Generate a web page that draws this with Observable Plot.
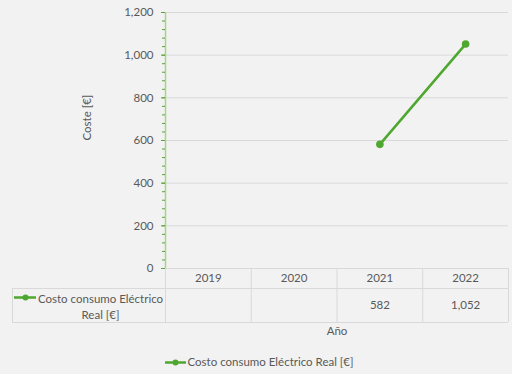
<!DOCTYPE html>
<html>
<head>
<meta charset="utf-8">
<script src="https://cdn.jsdelivr.net/npm/d3@7"></script>
<script src="https://cdn.jsdelivr.net/npm/@observablehq/plot@0.6"></script>
<style>
  html, body { margin: 0; padding: 0; background: #f2f2f2; }
  #chart svg { display: block; background: #f2f2f2; }
</style>
</head>
<body>
<div id="chart"></div>
<script>
const years = [2019, 2020, 2021, 2022];
const costs = [null, null, 582, 1052];
const seriesName = "Costo consumo Eléctrico Real [€]";
const tableLabel = "Costo consumo Eléctrico\nReal [€]";
const yTicks = [0, 200, 400, 600, 800, 1000, 1200];
const yMinorTicks = d3.range(0, 1201, 40);
const yLabel = "Coste [€]";
const xLabel = "Año";

const data = years.map((year, i) => ({year, cost: costs[i]}));
const present = data.filter(d => d.cost != null);
const bounds = [years[0] - 0.5, ...years.map(y => y + 0.5)];

const green = "#4ea72e";
const axisGreen = "#a9d18e";
const tickGreen = "#5aa43a";
const grid = "#d9d9d9";
const textColor = "#595959";
const font = "Lato, 'Noto Sans', sans-serif";
const fs = 11.5;

const chart = Plot.plot({
  width: 512,
  height: 374,
  marginTop: 12,
  marginLeft: 165,
  marginRight: 4,
  marginBottom: 106,
  style: {background: "#f2f2f2", fontFamily: font, fontSize: fs + "px", color: textColor},
  x: {domain: [years[0] - 0.5, years[years.length - 1] + 0.5], axis: null},
  y: {domain: [0, 1200], axis: null},
  marks: [
    Plot.gridY(yTicks, {stroke: grid, strokeOpacity: 1}),
    // table vertical lines
    Plot.ruleX(bounds, {stroke: grid, insetTop: 256, insetBottom: -54}),
    Plot.ruleX([bounds[0]], {stroke: grid, dx: -153, insetTop: 276, insetBottom: -54}),
    // table horizontal lines
    Plot.ruleY([0], {stroke: grid, dy: 20, insetLeft: -153}),
    Plot.ruleY([0], {stroke: grid, dy: 54, insetLeft: -153}),
    // y axis
    Plot.ruleX([bounds[0]], {stroke: axisGreen, strokeWidth: 1.5}),
    Plot.axisY(yMinorTicks, {tickSize: 3, tickFormat: () => "", stroke: tickGreen, label: null}),
    Plot.axisY(yTicks, {tickSize: 4, tickPadding: 8, tickFormat: d3.format(","), stroke: tickGreen, fill: textColor, fontSize: fs, label: null}),
    // series
    Plot.line(present, {x: "year", y: "cost", stroke: green, strokeWidth: 2.5}),
    Plot.dot(present, {x: "year", y: "cost", r: 3.8, fill: green}),
    // table
    Plot.text(years, {x: d => d, text: d => String(d), frameAnchor: "bottom", lineAnchor: "middle", dy: 10, fill: textColor, fontSize: fs}),
    Plot.text(present, {x: "year", text: d => d3.format(",")(d.cost), frameAnchor: "bottom", lineAnchor: "middle", dy: 37, fill: textColor, fontSize: fs}),
    Plot.text([tableLabel], {frameAnchor: "bottom-left", dx: -65, dy: 37, textAnchor: "middle", lineAnchor: "middle", lineHeight: 1.4, fill: textColor, fontSize: fs}),
    Plot.ruleY([0], {stroke: green, strokeWidth: 2.5, dy: 29, insetLeft: -151, insetRight: 472}),
    Plot.dot([0], {frameAnchor: "bottom-left", dx: -140, dy: 29, r: 3, fill: green}),
    // axis labels
    Plot.text([yLabel], {frameAnchor: "left", dx: -78, rotate: -90, fill: textColor, fontSize: fs}),
    Plot.text([xLabel], {frameAnchor: "bottom", lineAnchor: "middle", dy: 63, fill: textColor, fontSize: fs}),
    // legend
    Plot.ruleY([0], {stroke: green, strokeWidth: 2.5, dy: 94, insetRight: 322}),
    Plot.dot([0], {frameAnchor: "bottom-left", dx: 10, dy: 94, r: 3, fill: green}),
    Plot.text([seriesName], {frameAnchor: "bottom-left", dx: 22, dy: 94, textAnchor: "start", lineAnchor: "middle", fill: textColor, fontSize: fs})
  ]
});
document.getElementById("chart").appendChild(chart);
</script>
</body>
</html>
